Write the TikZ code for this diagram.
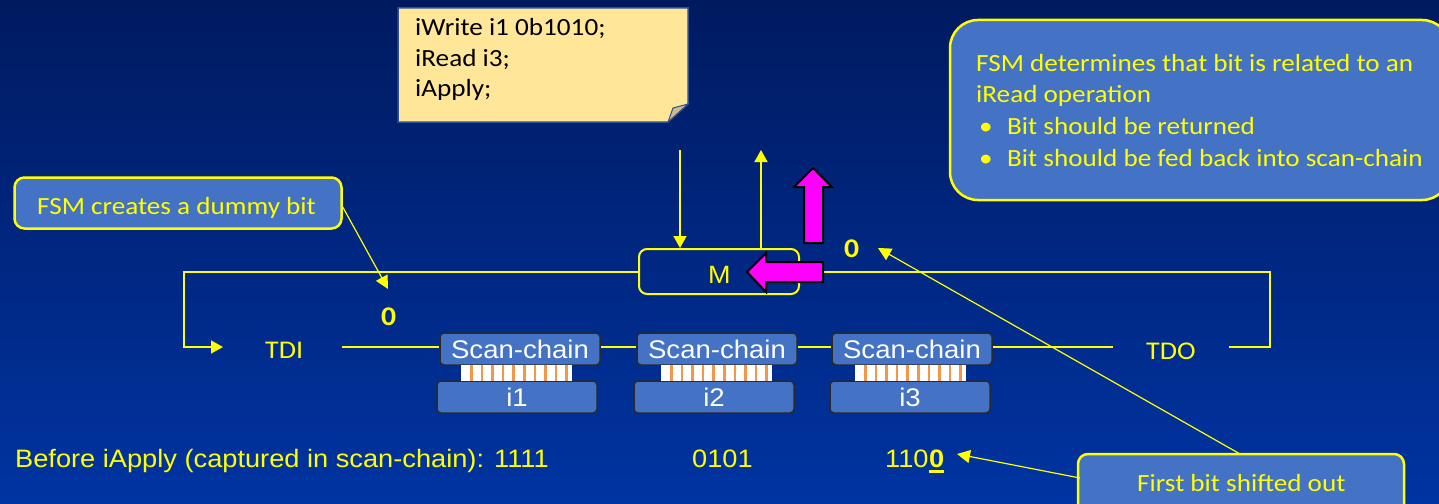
\documentclass[tikz,border=0pt]{standalone}
\usepackage{fontspec}
\setmainfont[FakeStretch=1.08]{Liberation Sans}
\newfontfamily\calfont[FakeStretch=1.1]{Carlito}
\usetikzlibrary{arrows.meta}
\definecolor{bgtop}{HTML}{001A60}
\definecolor{bgbot}{HTML}{0034A2}
\definecolor{boxblue}{HTML}{4472C4}
\definecolor{noteyel}{HTML}{FFE699}
\definecolor{noteline}{HTML}{2F528F}
\definecolor{foldc}{HTML}{CDBB8C}
\definecolor{ylw}{HTML}{FFFF00}
\definecolor{mag}{HTML}{FF00FF}
\definecolor{stripec}{HTML}{F4964A}
\definecolor{chipline}{HTML}{2A2A2A}
\begin{document}
\begin{tikzpicture}[x=1pt,y=-1pt,
  wire/.style={ylw, line width=1.5pt},
  arr/.style={wire,-{Triangle[length=12pt,width=13pt]}},
  carr/.style={ylw, line width=1.2pt,-{Triangle[length=13pt,width=13pt]}},
  callout/.style={draw=ylw, line width=2.5pt, fill=boxblue, rounded corners=10pt, inner sep=0pt},
  chip/.style={draw=chipline, line width=1.5pt, fill=boxblue, rounded corners=4pt, minimum width=160pt, minimum height=32pt, inner sep=0pt, text=white, font=\fontsize{25.5}{30}\selectfont},
  lbl/.style={text=ylw, inner sep=0pt, anchor=base west},
  cal/.style={lbl, font=\calfont\fontsize{24.7}{30}\selectfont},
  bitlbl/.style={lbl, font=\calfont\bfseries\fontsize{27}{30}\selectfont},
  arl/.style={lbl, font=\fontsize{25.2}{30}\selectfont},
  magarrow/.style={fill=mag, draw=black, line width=2pt, line join=miter}
]
\useasboundingbox (0,0) rectangle (1439,503);
\clip (0,0) rectangle (1439,503);
\shade[top color=bgtop, bottom color=bgbot] (0,0) rectangle (1439,503);

% code note
\filldraw[fill=noteyel, draw=noteline, line width=1.5pt] (398,8) -- (688,8) -- (688,104) -- (668,122) -- (398,122) -- cycle;
\filldraw[fill=foldc, draw=noteline, line width=1pt] (668,122) -- (673,108) -- (688,104) -- cycle;
\node[cal, text=black] (n1) at (415,36) {iWrite i1 0b1010;};
\node[cal, text=black] (n2) at (415,66.5) {iRead i3;};
\node[cal, text=black] (n3) at (415,96) {iApply;};

% M box
\node[draw=ylw, line width=2pt, rounded corners=8pt, minimum width=160pt, minimum height=45pt, inner sep=0pt] (M) at (719,271.5) {};
\node[lbl, font=\fontsize{25}{30}\selectfont] (Mt) at (708,283) {M};
\coordinate (din) at (680,150);
\coordinate (dout) at (761,150);
\draw[arr] (din) -- (din |- M.north);
\draw[arr] (dout |- M.north) -- (dout);

% scan chains
\node[chip] (sc1) at (520,349) {Scan-chain};
\node[chip] (sc2) at (717,349) {Scan-chain};
\node[chip] (sc3) at (912,349) {Scan-chain};
\node[chip] (i1) at (517,397) {i1};
\node[chip] (i2) at (714,397) {i2};
\node[chip] (i3) at (910,397) {i3};
\foreach \x in {461,661,855}{
  \fill[white] (\x,365) rectangle +(111,16);
  \foreach \k in {0,...,9} \fill[stripec] (\x+9+\k*10.6,365) rectangle +(2.6,16);
}

% TDI / TDO
\node[cal, font=\calfont\fontsize{25.5}{30}\selectfont] (tdi) at (265,358) {TDI};
\node[cal, font=\calfont\fontsize{25.5}{30}\selectfont] (tdo) at (1146,359) {TDO};
\coordinate (tdiL) at (342,347);
\coordinate (tdoR) at (1113,347);
\coordinate (tdoE) at (1229,347);
\coordinate (loopR) at (1270,272);
\coordinate (loopL) at (184,272);
\coordinate (tdiA) at (223,347);
\draw[wire] (tdiL) -- (sc1.west |- tdiL);
\draw[wire] (sc1.east |- tdiL) -- (sc2.west |- tdiL);
\draw[wire] (sc2.east |- tdiL) -- (sc3.west |- tdiL);
\draw[wire] (sc3.east |- tdiL) -- (tdoR);
\draw[wire] (tdoE) -- (loopR |- tdoE) -- (loopR) -- (M.east |- loopR);
\draw[arr] (M.west |- loopL) -- (loopL) -- (loopL |- tdiA) -- (tdiA);

% magenta arrows
\filldraw[magarrow] (823,262) -- (766,262) -- (766,253) -- (747,272) -- (766,292) -- (766,282) -- (823,282) -- cycle;
\filldraw[magarrow] (804,243) -- (804,187) -- (794,187) -- (813,168) -- (832,187) -- (823,187) -- (823,243) -- cycle;

% bits
\node[bitlbl] (b0l) at (381,325) {0};
\node[bitlbl] (b0r) at (844,257) {0};

% callouts
\node[callout, minimum width=327pt, minimum height=51pt] (dummy) at (178,203) {};
\node[cal] (dummyt) at (37,214) {FSM creates a dummy bit};
\coordinate (dtip) at (388,289);
\draw[carr] (dummy.east |- 0,207) -- (dtip);

\node[callout, rounded corners=28pt, minimum width=500pt, minimum height=180pt] (fsm) at (1200,110) {};
\node[cal] (f1) at (976,71) {FSM determines that bit is related to an};
\node[cal] (f2) at (976,102) {iRead operation};
\node[cal] (f3) at (979,134) {\textbullet};
\node[cal] (f3t) at (1007,134) {Bit should be returned};
\node[cal] (f4) at (979,166) {\textbullet};
\node[cal] (f4t) at (1007,166) {Bit should be fed back into scan-chain};

% bottom text
\node[arl] (before) at (15,467) {Before iApply (captured in scan-chain): 1111};
\node[arl] (v2) at (692,467) {0101};
\node[arl] (v3) at (885,467) {110};
\node[arl, font=\bfseries\fontsize{25.2}{30}\selectfont] (v3z) at (v3.base east) {0};
\fill[ylw] ([yshift=-3pt]v3z.base west) rectangle ([yshift=-6pt]v3z.base east);

\node[callout, minimum width=326pt, minimum height=70pt] (first) at (1241,489) {};
\node[cal] (firstt) at (1137,491) {First bit shifted out};
\coordinate (ftop) at (1240,454);
\coordinate (fleft) at (1080,478);
\coordinate (tipM) at (878,248);
\coordinate (tipB) at (957,454);
\draw[carr] (ftop) -- (tipM);
\draw[carr] (fleft) -- (tipB);
\end{tikzpicture}
\end{document}
